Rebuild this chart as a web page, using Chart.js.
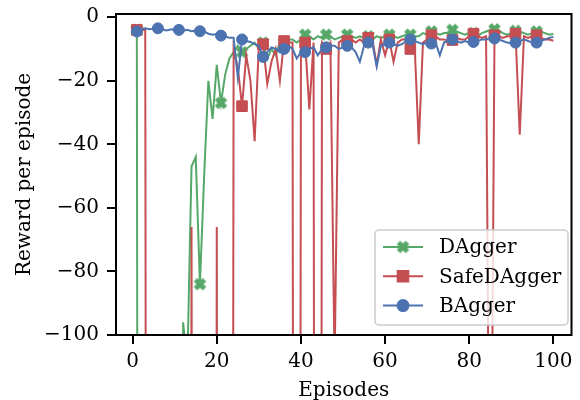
<!DOCTYPE html>
<html lang="en">
<head>
<meta charset="UTF-8">
<title>Reward per episode</title>
<script src="https://cdn.jsdelivr.net/npm/chart.js"></script>
<style>
  html, body { margin: 0; padding: 0; background: #fff; }
</style>
</head>
<body>
<canvas id="chart" width="580" height="400"></canvas>
<script>
const episodes = [1, 2, 3, 4, 5, 6, 7, 8, 9, 10, 11, 12, 13, 14, 15, 16, 17, 18, 19, 20,
  21, 22, 23, 24, 25, 26, 27, 28, 29, 30, 31, 32, 33, 34, 35, 36, 37, 38, 39, 40,
  41, 42, 43, 44, 45, 46, 47, 48, 49, 50, 51, 52, 53, 54, 55, 56, 57, 58, 59, 60,
  61, 62, 63, 64, 65, 66, 67, 68, 69, 70, 71, 72, 73, 74, 75, 76, 77, 78, 79, 80,
  81, 82, 83, 84, 85, 86, 87, 88, 89, 90, 91, 92, 93, 94, 95, 96, 97, 98, 99, 100];

// values far below -100 are off the plot (they show up as the vertical drops)
const dagger = [-4, -1000, -1000, -1000, -1000, -1000, -1000, -1000, -1000, -1000,
  -1000, -96, -110, -47, -44, -84, -50, -20, -32, -15,
  -27, -18, -13, -11, -9, -11, -10, -9, -8, -10,
  -8, -13, -10, -12, -8, -8, -7, -7, -8, -7,
  -5.5, -6, -7, -6, -6.5, -5.5, -6, -7, -6.5, -6,
  -5.5, -6, -6.5, -6, -6.5, -6, -7, -6, -6.5, -6,
  -5.5, -6, -6.5, -6, -5.5, -5.5, -6, -6, -5, -5.5,
  -4.5, -5, -5.5, -5, -5, -4, -4.5, -5, -5.5, -5,
  -5, -6, -5, -4.5, -4, -3.8, -4.2, -5, -5.5, -5,
  -4.3, -4.5, -5, -5.5, -5, -4.5, -4.5, -5, -5.5, -5.3];

const safeDagger = [-4, -4, -4, -1000, -1000, -1000, -1000, -1000, -1000, -1000,
  -1000, -1000, -1000, -66, -1000, -1000, -1000, -1000, -1000, -66,
  -1000, -1000, -1000, -10, -16, -28, -12, -20, -39, -9,
  -8.5, -21, -14, -10, -20, -7.5, -8, -8, -1000, -8,
  -8, -29, -8, -1000, -8, -10, -8, -110, -8, -7,
  -7.5, -7, -8, -7, -8, -6.5, -7, -15, -7, -12,
  -7, -14, -8, -7, -7, -10, -8, -40, -8, -7,
  -5.7, -6, -7, -7, -7.5, -7.2, -6.5, -7, -7, -6,
  -5.2, -6, -6.5, -6, -200, -5.7, -6, -6.5, -6, -6,
  -5.2, -37, -6, -6.5, -6, -5.7, -6.5, -7, -7, -7.4];

const bagger = [-4.5, -3.8, -3.5, -3.8, -3.6, -3.5, -3.8, -4.2, -3.9, -3.8,
  -4, -4.3, -4, -4.4, -4.2, -4.4, -4.5, -5.2, -5.5, -5.3,
  -5.8, -6, -6.5, -6.5, -19, -7, -7.5, -7.8, -8.5, -9,
  -12.5, -11, -9.5, -10, -11, -10, -9, -10, -13, -11,
  -11, -10, -9.5, -12, -10, -9.5, -9, -9, -10, -9.5,
  -9, -9.5, -11, -14, -9, -8, -8.5, -15.5, -9, -8.5,
  -8, -8.5, -9, -8.5, -7.5, -7, -7.5, -8, -8.5, -8,
  -8.3, -8, -12, -8, -7.5, -7, -7.5, -8, -7.5, -8,
  -7.8, -7.5, -7, -7, -6.5, -6.7, -7, -7.5, -8, -8.2,
  -8, -7.5, -7, -7.5, -8, -8, -7.5, -7, -6.5, -6.2];

const seriesNames = ['DAgger', 'SafeDAgger', 'BAgger'];
const xTicks = [0, 20, 40, 60, 80, 100];
const yTicks = [-100, -80, -60, -40, -20, 0];

const GREEN = '#55A868', RED = '#C44E52', BLUE = '#4C72B0';
const FONT = 'DejaVu Serif';

// filled "X" marker like matplotlib's 'X'
function makeX(color) {
  const c = document.createElement('canvas');
  c.width = 15; c.height = 15;
  const g = c.getContext('2d');
  g.strokeStyle = color;
  g.lineWidth = 5;
  g.beginPath();
  g.moveTo(3, 3); g.lineTo(12, 12);
  g.moveTo(12, 3); g.lineTo(3, 12);
  g.stroke();
  return c;
}

const toPoints = vals => episodes.map((e, i) => ({ x: e, y: vals[i] }));
const everyFifth = r => ctx => (ctx.dataIndex % 5 === 0 ? r : 0);
const minus = v => String(v).replace('-', '\u2212');

function series(label, vals, color, style, r, order) {
  return {
    label: label,
    data: toPoints(vals),
    borderColor: color,
    backgroundColor: color,
    borderWidth: 2,
    tension: 0,
    pointStyle: style,
    pointRadius: everyFifth(r),
    pointBorderWidth: 1,
    pointBorderColor: color,
    pointBackgroundColor: color,
    legendRadius: r,
    order: order
  };
}

// box around the axes
const spines = {
  id: 'spines',
  afterDatasetsDraw(chart) {
    const a = chart.chartArea, ctx = chart.ctx;
    ctx.save();
    ctx.strokeStyle = '#000';
    ctx.lineWidth = 2;
    ctx.strokeRect(a.left, a.top, a.right - a.left, a.bottom - a.top);
    ctx.restore();
  }
};

// legend in the lower right corner, inside the axes
const boxLegend = {
  id: 'boxLegend',
  afterDraw(chart) {
    const ctx = chart.ctx;
    const bx = 375, by = 230, bw = 193, bh = 95;
    ctx.save();
    ctx.beginPath();
    ctx.roundRect(bx, by, bw, bh, 4);
    ctx.fillStyle = 'rgba(255,255,255,0.8)';
    ctx.fill();
    ctx.strokeStyle = '#cccccc';
    ctx.lineWidth = 1.5;
    ctx.stroke();
    chart.data.datasets.forEach((ds, i) => {
      const y = 247 + i * 29.3;
      ctx.strokeStyle = ds.borderColor;
      ctx.lineWidth = 2;
      ctx.beginPath();
      ctx.moveTo(383, y);
      ctx.lineTo(423, y);
      ctx.stroke();
      ctx.fillStyle = ds.backgroundColor;
      Chart.helpers.drawPoint(ctx, {
        pointStyle: ds.pointStyle, radius: ds.legendRadius, rotation: 0, borderWidth: 1
      }, 403, y);
      ctx.fillStyle = '#000';
      ctx.font = '20px "' + FONT + '"';
      ctx.textBaseline = 'middle';
      ctx.textAlign = 'left';
      ctx.fillText(ds.label, 439, y + 1);
    });
    ctx.restore();
  }
};

const datasets = [
  series(seriesNames[0], dagger, GREEN, makeX(GREEN), 6, 2),
  series(seriesNames[1], safeDagger, RED, 'rect', 7.5, 1),
  series(seriesNames[2], bagger, BLUE, 'circle', 5.5, 0)
];

const tickFont = { family: FONT, size: 20 };

new Chart(document.getElementById('chart'), {
  type: 'line',
  data: { datasets: datasets },
  options: {
    responsive: false,
    animation: false,
    devicePixelRatio: 1,
    layout: { padding: { top: 14, right: 4, left: 0, bottom: 0 } },
    plugins: { legend: { display: false }, tooltip: { enabled: false } },
    scales: {
      x: {
        type: 'linear',
        min: -3.95,
        max: 104.3,
        afterBuildTicks: s => { s.ticks = xTicks.map(v => ({ value: v })); },
        afterFit: s => { s.height = 65; s.paddingLeft = 0; s.paddingRight = 0; },
        grid: { drawOnChartArea: false, drawTicks: true, tickLength: 9, color: '#000', lineWidth: 2 },
        border: { display: false },
        ticks: { color: '#000', font: tickFont, padding: 6, maxRotation: 0, callback: minus },
        title: { display: true, text: 'Episodes', color: '#000', font: tickFont, padding: { top: 0, bottom: -3 } }
      },
      y: {
        min: -100,
        max: 1,
        afterBuildTicks: s => { s.ticks = yTicks.map(v => ({ value: v })); },
        afterFit: s => { s.width = 116; s.paddingTop = 0; s.paddingBottom = 0; },
        grid: { drawOnChartArea: false, drawTicks: true, tickLength: 9, color: '#000', lineWidth: 2 },
        border: { display: false },
        ticks: { color: '#000', font: tickFont, padding: 8, callback: minus },
        title: { display: true, text: 'Reward per episode', color: '#000', font: tickFont, padding: { top: 13, bottom: 0 } }
      }
    }
  },
  plugins: [spines, boxLegend]
});
</script>
</body>
</html>
